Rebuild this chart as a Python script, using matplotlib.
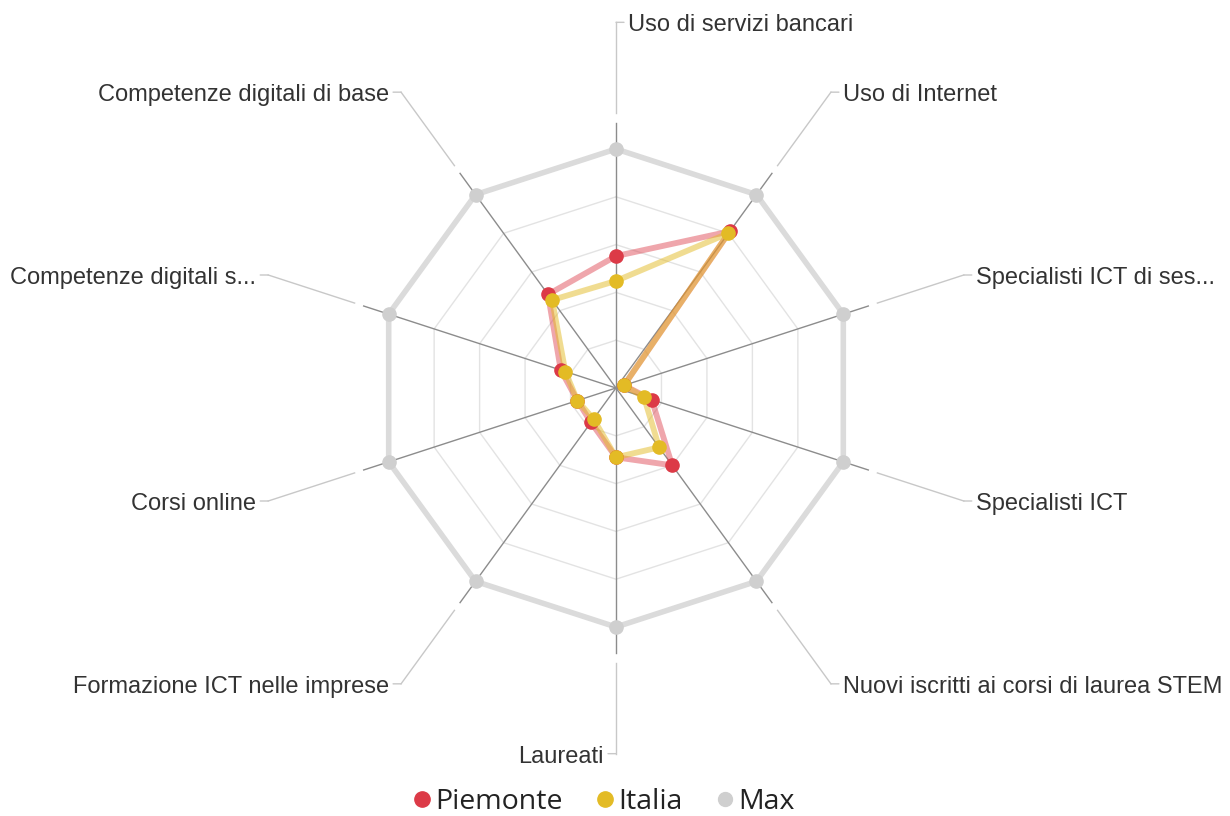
import numpy as np
import matplotlib
matplotlib.use("Agg")
import matplotlib.pyplot as plt
from matplotlib.lines import Line2D

# ---------------- data ----------------
categories = [
    "Uso di servizi bancari",
    "Uso di Internet",
    "Specialisti ICT di ses...",
    "Specialisti ICT",
    "Nuovi iscritti ai corsi di laurea STEM",
    "Laureati",
    "Formazione ICT nelle imprese",
    "Corsi online",
    "Competenze digitali s...",
    "Competenze digitali di base",
]
piemonte = [0.552, 0.81, 0.035, 0.157, 0.40, 0.29, 0.178, 0.17, 0.243, 0.484]
italia = [0.448, 0.80, 0.035, 0.123, 0.307, 0.29, 0.16, 0.17, 0.223, 0.455]
max_vals = [1.0, 1.0, 1.0, 1.0, 1.0, 1.0, 1.0, 1.0, 1.0, 1.0]
grid_levels = [0.2, 0.4, 0.6, 0.8]
series_names = ["Piemonte", "Italia", "Max"]

# ---------------- styling ----------------
W, H, DPI = 1230, 816, 100
CX, CY = 616, H - 388          # centre of the radar in pixels (from bottom)
R1 = 239                        # pixel radius of value 1.0
RMAX = 1.6

red = "#dc3a47"
yellow = "#e3bb25"
gray = "#cfcfcf"

fig = plt.figure(figsize=(W / DPI, H / DPI), dpi=DPI)
fig.patch.set_facecolor("white")
RAX = RMAX * R1
ax = fig.add_axes([(CX - RAX) / W, (CY - RAX) / H, 2 * RAX / W, 2 * RAX / H],
                  projection="polar")
ax.set_theta_zero_location("N")
ax.set_theta_direction(-1)
ax.set_ylim(0, RMAX)
ax.grid(False)
ax.spines["polar"].set_visible(False)
ax.set_xticks([])
ax.set_yticks([])
ax.patch.set_alpha(0)

n = len(categories)
theta = np.arange(n) * 2 * np.pi / n


def closed(v):
    v = np.asarray(v, dtype=float)
    return np.r_[v, v[:1]]


tc = closed(theta)

# grid rings (decagons)
for lv in grid_levels:
    ax.plot(tc, [lv] * (n + 1), color="#e3e3e3", lw=1, zorder=1)

# axis spokes
for t in theta:
    ax.plot([t, t], [0, 1.11], color="#8c8c8c", lw=1, zorder=2)

# Max series
ax.plot(tc, closed(max_vals), color=gray, lw=4, alpha=0.75, zorder=3)
ax.plot(theta, max_vals, ls="", marker="o", ms=9.5, color=gray, zorder=4)

# Piemonte & Italia lines
ax.plot(tc, closed(piemonte), color=red, lw=4.2, alpha=0.45, zorder=5,
        solid_joinstyle="round")
ax.plot(tc, closed(italia), color=yellow, lw=4.2, alpha=0.5, zorder=6,
        solid_joinstyle="round")
ax.plot(theta, piemonte, ls="", marker="o", ms=9.5, color=red, zorder=7)
ax.plot(theta, italia, ls="", marker="o", ms=9.5, color=yellow, zorder=8)

# labels with leader lines
LEAD_START, LEAD_END = 1.15, 1.53
for i, (t, lab) in enumerate(zip(theta, categories)):
    ax.plot([t, t], [LEAD_START, LEAD_END], color="#c8c8c8", lw=1, zorder=2)
    side = 1 if i < n / 2 else -1
    ax.annotate("", xy=(t, LEAD_END), xytext=(8 * side, 0),
                textcoords="offset pixels",
                arrowprops=dict(arrowstyle="-", color="#c8c8c8", lw=1,
                                shrinkA=0, shrinkB=0))
    ax.annotate(lab, xy=(t, LEAD_END), xytext=(12 * side, -9),
                textcoords="offset pixels",
                ha="left" if side > 0 else "right", va="baseline",
                fontsize=17, color="#333333", family="Liberation Sans")

# legend
handles = [Line2D([], [], ls="", marker="o", ms=ms, color=c)
           for c, ms in ((red, 11), (yellow, 11), (gray, 10))]
fig.legend(handles, series_names, loc="center", ncol=3,
           bbox_to_anchor=(602 / W, 1 - 802 / H), frameon=False,
           handletextpad=0.0, columnspacing=1.05, handlelength=0.9,
           prop=dict(family="Open Sans", size=20.5), labelcolor="#222222")

fig.savefig("out.png", dpi=DPI, facecolor="white")
